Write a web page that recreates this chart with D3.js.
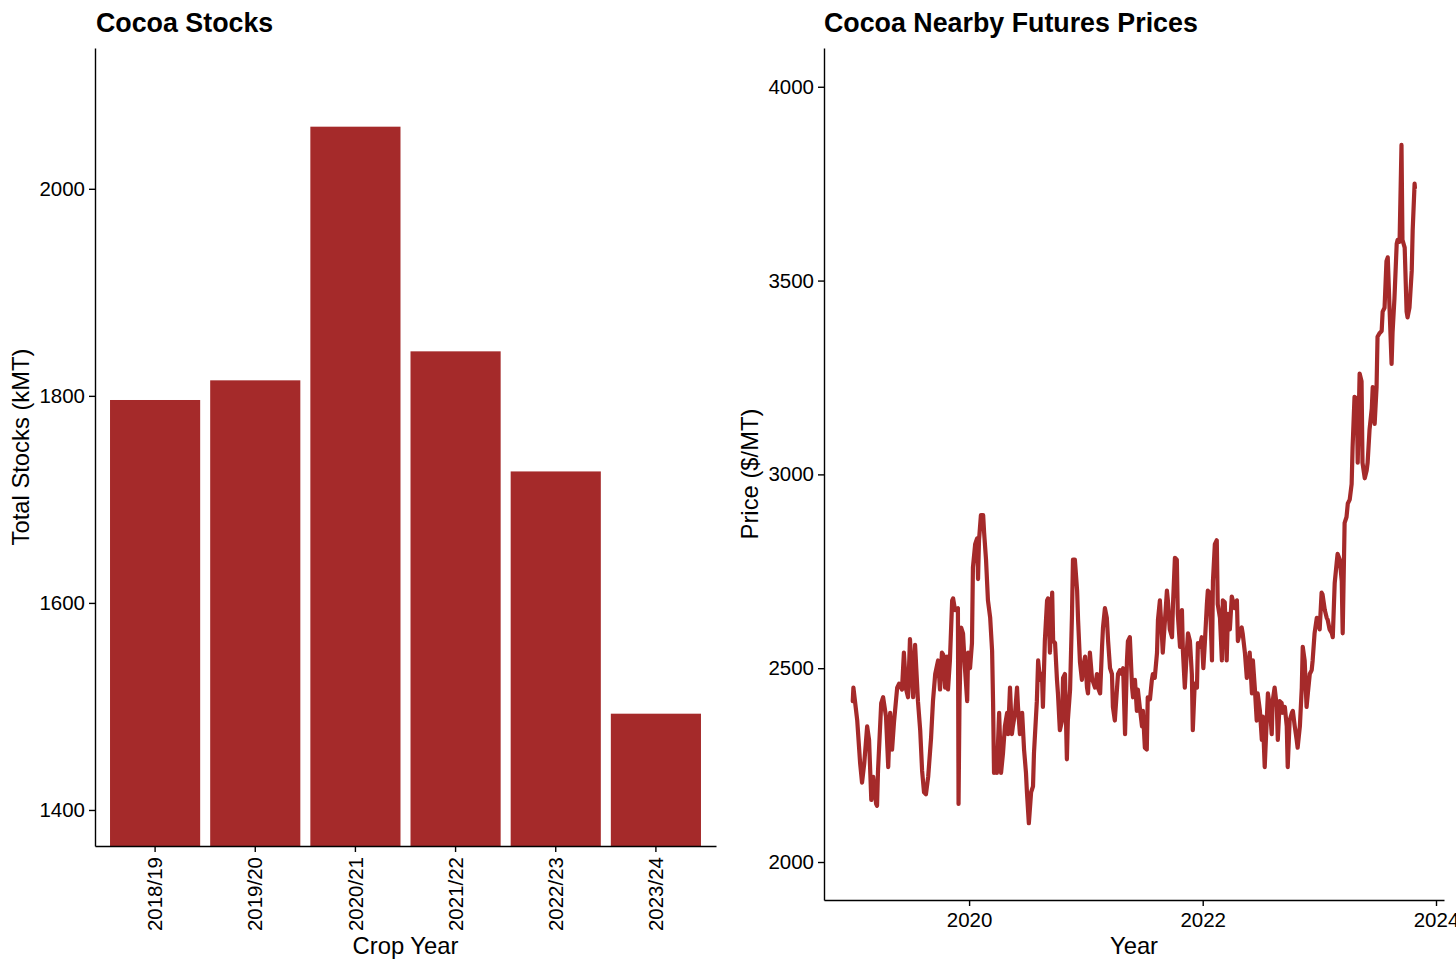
<!DOCTYPE html>
<html>
<head>
<meta charset="utf-8">
<script src="https://cdn.jsdelivr.net/npm/d3@7"></script>
<style>
  html, body { margin: 0; padding: 0; background: #fff; }
  svg { display: block; font-family: "Liberation Sans", Arial, sans-serif; }
</style>
</head>
<body>
<svg id="chart" width="1456" height="971"></svg>
<script>
// ---------------- DATA ----------------
const cropYears = ["2018/19", "2019/20", "2020/21", "2021/22", "2022/23", "2023/24"];
const stocks = [1796, 1815, 2060, 1843, 1727, 1493];
const stockTicks = [1400, 1600, 1800, 2000];

const priceDates = [
"2019-01-02","2019-01-04","2019-01-16","2019-01-25","2019-01-31","2019-02-07","2019-02-16","2019-02-22","2019-03-01","2019-03-07",
"2019-03-16","2019-03-19","2019-03-22","2019-04-01","2019-04-07","2019-04-16","2019-04-23","2019-04-29","2019-05-05","2019-05-11",
"2019-05-21","2019-05-27","2019-06-05","2019-06-11","2019-06-18","2019-06-24","2019-06-30","2019-07-10","2019-07-16","2019-07-25",
"2019-08-01","2019-08-07","2019-08-13","2019-08-19","2019-08-26","2019-09-04","2019-09-10","2019-09-17","2019-09-26","2019-10-02",
"2019-10-08","2019-10-12","2019-10-18","2019-10-24","2019-10-27","2019-11-02","2019-11-09","2019-11-12","2019-11-18","2019-11-27",
"2019-11-29","2019-12-02","2019-12-07","2019-12-13","2019-12-19","2019-12-26","2019-12-29","2020-01-04","2020-01-10","2020-01-13",
"2020-01-20","2020-01-26","2020-01-29","2020-02-01","2020-02-07","2020-02-14","2020-02-17","2020-02-23","2020-02-29","2020-03-07",
"2020-03-13","2020-03-16","2020-03-19","2020-03-25","2020-03-28","2020-04-04","2020-04-10","2020-04-16","2020-04-22","2020-04-29",
"2020-05-02","2020-05-08","2020-05-14","2020-05-17","2020-05-24","2020-05-30","2020-06-02","2020-06-08","2020-06-15","2020-06-21",
"2020-06-27","2020-06-30","2020-07-06","2020-07-13","2020-07-19","2020-07-22","2020-07-31","2020-08-04","2020-08-10","2020-08-16",
"2020-08-19","2020-08-25","2020-09-01","2020-09-04","2020-09-10","2020-09-17","2020-09-20","2020-09-26","2020-10-02","2020-10-05",
"2020-10-11","2020-10-18","2020-10-21","2020-10-27","2020-11-02","2020-11-05","2020-11-12","2020-11-18","2020-11-21","2020-11-27",
"2020-12-04","2020-12-07","2020-12-13","2020-12-19","2020-12-22","2020-12-29","2021-01-04","2021-01-07","2021-01-13","2021-01-20",
"2021-01-23","2021-01-29","2021-02-04","2021-02-07","2021-02-14","2021-02-20","2021-02-23","2021-03-01","2021-03-07","2021-03-11",
"2021-03-17","2021-03-23","2021-03-26","2021-04-01","2021-04-08","2021-04-11","2021-04-17","2021-04-23","2021-04-27","2021-05-03",
"2021-05-09","2021-05-12","2021-05-18","2021-05-25","2021-05-28","2021-06-03","2021-06-09","2021-06-12","2021-06-18","2021-06-25",
"2021-06-28","2021-07-04","2021-07-10","2021-07-13","2021-07-20","2021-07-26","2021-07-29","2021-08-04","2021-08-11","2021-08-14",
"2021-08-20","2021-08-26","2021-08-29","2021-09-05","2021-09-11","2021-09-14","2021-09-20","2021-09-27","2021-09-30","2021-10-06",
"2021-10-12","2021-10-15","2021-10-22","2021-10-28","2021-10-31","2021-11-06","2021-11-12","2021-11-16","2021-11-22","2021-11-28",
"2021-12-01","2021-12-07","2021-12-14","2021-12-17","2021-12-23","2021-12-29","2022-01-03","2022-01-08","2022-01-14","2022-01-17",
"2022-01-23","2022-01-30","2022-02-02","2022-02-08","2022-02-14","2022-02-17","2022-02-24","2022-03-02","2022-03-05","2022-03-11",
"2022-03-17","2022-03-21","2022-03-27","2022-04-02","2022-04-05","2022-04-11","2022-04-18","2022-04-21","2022-04-27","2022-05-03",
"2022-05-06","2022-05-13","2022-05-19","2022-05-22","2022-05-28","2022-06-04","2022-06-07","2022-06-13","2022-06-19","2022-06-22",
"2022-06-29","2022-07-05","2022-07-08","2022-07-14","2022-07-20","2022-07-24","2022-07-30","2022-08-05","2022-08-08","2022-08-14",
"2022-08-21","2022-08-24","2022-08-30","2022-09-05","2022-09-08","2022-09-15","2022-09-21","2022-09-24","2022-09-30","2022-10-07",
"2022-10-10","2022-10-16","2022-10-22","2022-10-25","2022-11-01","2022-11-07","2022-11-10","2022-11-16","2022-11-22","2022-11-26",
"2022-12-02","2022-12-08","2022-12-11","2022-12-17","2022-12-24","2022-12-27","2023-01-02","2023-01-08","2023-01-11","2023-01-18",
"2023-01-24","2023-01-27","2023-02-02","2023-02-09","2023-02-12","2023-02-18","2023-02-24","2023-02-27","2023-03-06","2023-03-12",
"2023-03-15","2023-03-21","2023-03-27","2023-03-31","2023-04-06","2023-04-12","2023-04-15","2023-04-21","2023-04-28","2023-05-01",
"2023-05-07","2023-05-13","2023-05-16","2023-05-23","2023-05-29","2023-06-01","2023-06-07","2023-06-14","2023-06-17","2023-06-23",
"2023-06-29","2023-07-02","2023-07-09","2023-07-15","2023-07-18","2023-07-24","2023-07-30","2023-08-03","2023-08-09","2023-08-15",
"2023-08-18","2023-08-24","2023-08-31","2023-09-03","2023-09-09","2023-09-15","2023-09-18","2023-09-25","2023-10-01","2023-10-04",
"2023-10-10","2023-10-17","2023-10-20","2023-10-26","2023-10-27"
];
const prices = [
2415,2450,2365,2255,2205,2255,2350,2315,2160,2220,
2150,2145,2235,2410,2425,2375,2245,2385,2290,2360,
2450,2460,2445,2540,2445,2425,2575,2425,2560,2415,
2340,2235,2180,2175,2220,2320,2415,2485,2520,2445,
2540,2535,2450,2530,2445,2520,2675,2680,2650,2655,
2150,2415,2605,2590,2500,2415,2540,2500,2565,2760,
2820,2835,2730,2830,2895,2895,2850,2780,2675,2630,
2545,2415,2230,2280,2230,2385,2230,2280,2350,2385,
2330,2450,2330,2350,2385,2450,2400,2330,2385,2290,
2230,2180,2100,2180,2195,2280,2415,2520,2470,2485,
2400,2570,2675,2680,2540,2695,2570,2565,2470,2435,
2340,2365,2475,2485,2265,2365,2445,2640,2780,2780,
2700,2625,2515,2470,2500,2530,2450,2435,2540,2470,
2465,2450,2485,2450,2435,2555,2605,2655,2630,2570,
2500,2485,2400,2365,2450,2485,2495,2485,2500,2330,
2520,2570,2580,2450,2425,2470,2390,2445,2400,2350,
2390,2295,2290,2425,2420,2470,2485,2475,2540,2625,
2675,2590,2540,2625,2700,2675,2600,2580,2665,2785,
2780,2640,2555,2650,2545,2450,2540,2590,2570,2485,
2340,2460,2450,2565,2555,2580,2500,2570,2665,2700,
2695,2520,2725,2820,2830,2665,2630,2520,2675,2670,
2520,2640,2600,2685,2675,2655,2675,2570,2590,2605,
2590,2540,2475,2485,2540,2435,2520,2450,2365,2435,
2390,2315,2375,2245,2360,2435,2400,2330,2415,2450,
2400,2315,2415,2410,2385,2400,2350,2245,2365,2385,
2390,2350,2315,2295,2350,2450,2555,2520,2400,2435,
2485,2495,2520,2590,2630,2625,2600,2695,2690,2650,
2630,2625,2600,2590,2580,2720,2770,2795,2780,2725,
2590,2875,2890,2925,2935,2975,3070,3200,3195,3030,
3260,3240,3030,2990,3010,3030,3115,3170,3225,3130,
3225,3355,3365,3370,3420,3430,3550,3560,3420,3285,
3365,3455,3595,3605,3600,3850,3605,3585,3420,3405,
3430,3525,3630,3750,3740
];
const priceTicks = [2000, 2500, 3000, 3500, 4000];
const yearTicks = ["2020-01-01", "2022-01-01", "2024-01-01"];

// ---------------- STYLE ----------------
const BAR = "#A52A2A";
const TICK_FONT = "20.5px";
const TITLE_FONT = "23.8px";
const HEAD_FONT = "26.8px";

const svg = d3.select("#chart");
svg.append("rect").attr("width", 1456).attr("height", 971).attr("fill", "#fff");

function styleAxis(g) {
  g.selectAll("path.domain").attr("stroke", "#000").attr("stroke-width", 1.4);
  g.selectAll(".tick line").attr("stroke", "#000").attr("stroke-width", 1.4);
  g.selectAll(".tick text").attr("fill", "#000").style("font-size", TICK_FONT)
    .style("font-family", "'Liberation Sans', Arial, sans-serif");
}

// ---------------- LEFT: BAR CHART ----------------
const L = { left: 95, right: 716, top: 48, bottom: 846 };

const xBand = d3.scaleBand()
  .domain(cropYears)
  .range([L.left, L.right])
  .paddingInner(0.1)
  .paddingOuter(0.15);

const yStock = d3.scaleLinear()
  .domain([1365.2, 2136])
  .range([L.bottom, L.top]);

svg.append("g").selectAll("rect")
  .data(cropYears.map((c, i) => ({ c, v: stocks[i] })))
  .join("rect")
  .attr("x", d => xBand(d.c))
  .attr("width", xBand.bandwidth())
  .attr("y", d => yStock(d.v))
  .attr("height", d => L.bottom - yStock(d.v))
  .attr("fill", BAR);

const gxL = svg.append("g")
  .attr("transform", `translate(0,${L.bottom})`)
  .call(d3.axisBottom(xBand).tickSize(6).tickSizeOuter(0));
styleAxis(gxL);
gxL.selectAll(".tick text")
  .attr("transform", "rotate(-90)")
  .attr("text-anchor", "end")
  .attr("x", -11)
  .attr("y", 0)
  .attr("dy", "0.35em");

const gyL = svg.append("g")
  .attr("transform", `translate(${L.left},0)`)
  .call(d3.axisLeft(yStock).tickValues(stockTicks).tickFormat(d3.format("d"))
    .tickSize(6).tickPadding(4).tickSizeOuter(0));
styleAxis(gyL);

svg.append("text")
  .attr("x", 96).attr("y", 32)
  .style("font-size", HEAD_FONT).style("font-weight", "bold")
  .text("Cocoa Stocks");

svg.append("text")
  .attr("x", (L.left + L.right) / 2).attr("y", 954)
  .attr("text-anchor", "middle")
  .style("font-size", TITLE_FONT)
  .text("Crop Year");

svg.append("text")
  .attr("transform", `translate(29,${(L.top + L.bottom) / 2}) rotate(-90)`)
  .attr("text-anchor", "middle")
  .style("font-size", TITLE_FONT)
  .text("Total Stocks (kMT)");

// ---------------- RIGHT: LINE CHART ----------------
const R = { left: 824, right: 1444, top: 48, bottom: 900 };
const parse = d3.utcParse("%Y-%m-%d");

const xTime = d3.scaleUtc()
  .domain([parse("2018-10-04"), parse("2024-01-26")])
  .range([R.left, R.right]);

const yPrice = d3.scaleLinear()
  .domain([1902, 4100])
  .range([R.bottom, R.top]);

const series = priceDates.map((d, i) => ({ date: parse(d), value: prices[i] }));

svg.append("path")
  .datum(series)
  .attr("fill", "none")
  .attr("stroke", BAR)
  .attr("stroke-width", 4.2)
  .attr("stroke-linejoin", "round")
  .attr("stroke-linecap", "round")
  .attr("d", d3.line().x(d => xTime(d.date)).y(d => yPrice(d.value)));

const gxR = svg.append("g")
  .attr("transform", `translate(0,${R.bottom})`)
  .call(d3.axisBottom(xTime).tickValues(yearTicks.map(parse))
    .tickFormat(d3.utcFormat("%Y")).tickSize(6).tickPadding(6).tickSizeOuter(0));
styleAxis(gxR);

const gyR = svg.append("g")
  .attr("transform", `translate(${R.left},0)`)
  .call(d3.axisLeft(yPrice).tickValues(priceTicks).tickFormat(d3.format("d"))
    .tickSize(6).tickPadding(4).tickSizeOuter(0));
styleAxis(gyR);

svg.append("text")
  .attr("x", 824).attr("y", 32)
  .style("font-size", HEAD_FONT).style("font-weight", "bold")
  .text("Cocoa Nearby Futures Prices");

svg.append("text")
  .attr("x", (R.left + R.right) / 2).attr("y", 954)
  .attr("text-anchor", "middle")
  .style("font-size", TITLE_FONT)
  .text("Year");

svg.append("text")
  .attr("transform", `translate(758,${(R.top + R.bottom) / 2}) rotate(-90)`)
  .attr("text-anchor", "middle")
  .style("font-size", TITLE_FONT)
  .text("Price ($/MT)");
</script>
</body>
</html>
